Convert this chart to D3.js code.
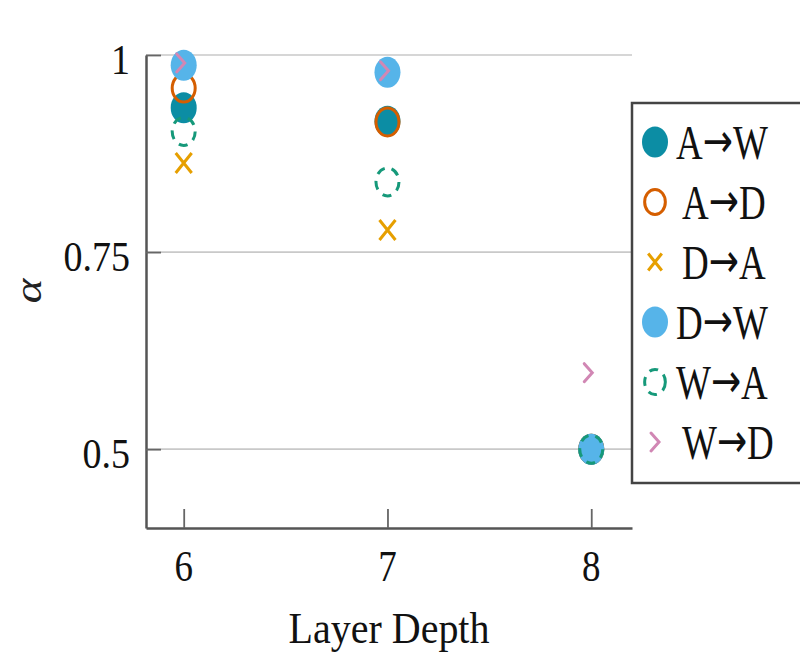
<!DOCTYPE html>
<html><head><meta charset="utf-8">
<script src="https://cdn.jsdelivr.net/npm/d3@7"></script>
<style>body{margin:0;background:#fff}svg{display:block}</style>
</head><body>
<svg id="c" width="800" height="654"></svg>
<script>
const layers = [6, 7, 8];
const seriesNames = ["A\u2192W", "A\u2192D", "D\u2192A", "D\u2192W", "W\u2192A", "W\u2192D"];
const AW = [0.933, 0.916, 0.5];
const AD = [0.958, 0.915, 0.5];
const DA = [0.863, 0.778, 0.5];
const DW = [0.987, 0.978, 0.5];
const WA = [0.903, 0.839, 0.5];
const WD = [0.99, 0.98, 0.597];
const yTicks = [0.5, 0.75, 1];
const yTickLabels = ["0.5", "0.75", "1"];
const xTickLabels = ["6", "7", "8"];

const seriesValues = [AW, AD, DA, DW, WA, WD];
const styles = [
  {type: "fill", color: "#0C8DA4"},
  {type: "ring", color: "#D55E00"},
  {type: "cross", color: "#E69F00"},
  {type: "fill", color: "#56B4E9"},
  {type: "dash", color: "#16997A"},
  {type: "chev", color: "#D187B4"}
];

const svg = d3.select("#c");
const x = d3.scaleLinear().domain([5.815, 8.2]).range([146, 632]);
const y = d3.scaleLinear().domain([0.4, 1.0]).range([528, 55]);
const serif = "'Liberation Serif', 'DejaVu Serif', serif";

// grid
svg.append("g").selectAll("line").data(yTicks).join("line")
  .attr("x1", x.range()[0]).attr("x2", x.range()[1])
  .attr("y1", d => y(d)).attr("y2", d => y(d))
  .attr("stroke", "#c9c9c9").attr("stroke-width", 1.6);

// axes
const xAxis = d3.axisBottom(x).tickValues(layers).tickSizeInner(-19).tickSizeOuter(0).tickFormat((d, i) => xTickLabels[i]);
const gx = svg.append("g").attr("transform", `translate(0,${y.range()[0]})`).call(xAxis);
gx.select(".domain").attr("stroke", "#555").attr("stroke-width", 2.5);
gx.selectAll(".tick line").attr("stroke", "#666").attr("stroke-width", 1.8);
gx.selectAll(".tick text").remove();

const yAxis = d3.axisLeft(y).tickValues(yTicks).tickSizeInner(-15).tickSizeOuter(0);
const gy = svg.append("g").attr("transform", `translate(${x.range()[0]},0)`).call(yAxis);
gy.select(".domain").attr("stroke", "#555").attr("stroke-width", 2.5);
gy.selectAll(".tick line").attr("stroke", "#666").attr("stroke-width", 1.8);
gy.selectAll(".tick text").remove();

// tick labels (stretched serif)
layers.forEach((v, i) => {
  svg.append("g").attr("transform", `translate(${x(v)},565) scale(1,1.2)`)
    .append("text").attr("text-anchor", "middle").attr("dy", "0.35em")
    .attr("font-family", serif).attr("font-size", 37).attr("fill", "#111").text(xTickLabels[i]);
});
yTicks.forEach((v, i) => {
  svg.append("g").attr("transform", `translate(130,${y(v) + 4}) scale(1,1.1)`)
    .append("text").attr("text-anchor", "end").attr("dy", "0.35em")
    .attr("font-family", serif).attr("font-size", 38).attr("fill", "#111").text(yTickLabels[i]);
});

// axis titles
svg.append("g").attr("transform", `translate(389,628) scale(1,1.1)`)
  .append("text").attr("text-anchor", "middle").attr("dy", "0.33em")
  .attr("font-family", serif).attr("font-size", 40).attr("fill", "#111").text("Layer Depth");
svg.append("g").attr("transform", `translate(28,291) rotate(-90) scale(1.25,1)`)
  .append("text").attr("text-anchor", "middle").attr("dy", "0.35em")
  .attr("font-family", serif).attr("font-style", "italic").attr("font-size", 38).attr("fill", "#222").text("\u03b1");

function drawMarker(g, st, cx, cy, scale) {
  const s = scale || 1;
  if (st.type === "fill") {
    g.append("ellipse").attr("cx", cx).attr("cy", cy).attr("rx", 13 * s).attr("ry", 15.5 * s).attr("fill", st.color);
  } else if (st.type === "ring") {
    g.append("ellipse").attr("cx", cx).attr("cy", cy).attr("rx", 11.5 * s).attr("ry", 14 * s)
      .attr("fill", "none").attr("stroke", st.color).attr("stroke-width", 3);
  } else if (st.type === "dash") {
    g.append("ellipse").attr("cx", cx).attr("cy", cy).attr("rx", 11.5 * s).attr("ry", 14 * s)
      .attr("fill", "none").attr("stroke", st.color).attr("stroke-width", 3).attr("stroke-dasharray", "9,7");
  } else if (st.type === "cross") {
    const w = 8 * s, h = 10 * s;
    g.append("path").attr("d", `M${cx - w},${cy - h}L${cx + w},${cy + h}M${cx - w},${cy + h}L${cx + w},${cy - h}`)
      .attr("stroke", st.color).attr("stroke-width", 3).attr("fill", "none");
  } else if (st.type === "chev") {
    const w = 4 * s, h = 9 * s;
    g.append("path").attr("d", `M${cx - w},${cy - h}L${cx + w},${cy}L${cx - w},${cy + h}`)
      .attr("stroke", st.color).attr("stroke-width", 3).attr("fill", "none").attr("stroke-linecap", "round");
  }
}

// points
const pg = svg.append("g");
seriesValues.forEach((vals, si) => {
  vals.forEach((v, i) => {
    const dx = styles[si].type === "chev" ? -3 : 0;
    drawMarker(pg, styles[si], x(layers[i]) + dx, y(v), 1);
  });
});

// legend
const lg = svg.append("g");
lg.append("rect").attr("x", 632).attr("y", 103).attr("width", 190).attr("height", 380)
  .attr("fill", "#fff").attr("stroke", "#444").attr("stroke-width", 2.5);
seriesNames.forEach((name, i) => {
  const cy = 142 + i * 60;
  drawMarker(lg, styles[i], 655, cy, styles[i].type === "cross" ? 0.85 : (styles[i].type === "ring" || styles[i].type === "dash" ? 0.9 : 1));
  const parts = name.split("\u2192");
  const t = lg.append("g").attr("transform", `translate(${i === 0 || i === 3 || i === 4 ? 676 : 682},${cy}) scale(1,1.3)`)
    .append("text").attr("dy", "0.35em").attr("font-family", serif).attr("font-size", 37).attr("fill", "#111");
  t.append("tspan").text(parts[0]);
  t.append("tspan").attr("font-family", "'DejaVu Sans', sans-serif").attr("font-size", 36).attr("dy", "-0.03em").text("\u2192");
  t.append("tspan").attr("dy", "0.03em").text(parts[1]);
});
</script>
</body></html>
